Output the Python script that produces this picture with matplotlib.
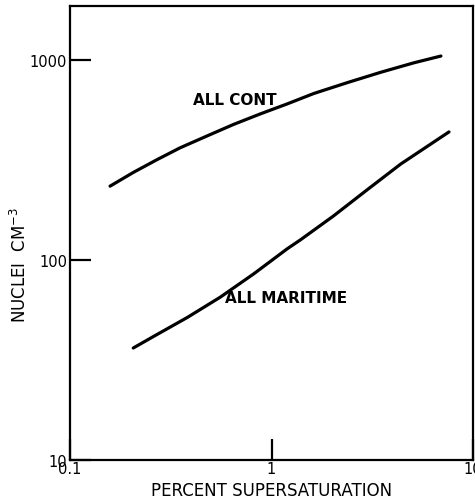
import matplotlib
matplotlib.use("Agg")
import matplotlib.pyplot as plt
from matplotlib.ticker import FixedLocator, FixedFormatter, NullLocator

# Data
cont_x = [0.158, 0.206, 0.271, 0.352, 0.481, 0.647, 0.881, 1.20, 1.62,
          2.39, 3.48, 5.08, 6.93]
cont_y = [234, 274, 318, 364, 418, 476, 538, 604, 680, 772, 868, 968, 1047]
mari_x = [0.206, 0.259, 0.382, 0.557, 0.814, 1.20, 1.39, 1.75, 2.03,
          3.01, 4.38, 7.60]
mari_y = [36.3, 41.4, 51.6, 65.2, 85.1, 114, 126, 149, 166, 226, 302, 437]

x_ticks = [0.1, 1, 10]
x_tick_labels = ["0.1", "1", "10"]
y_ticks = [10, 100, 1000]
y_tick_labels = ["10", "100", "1000"]

fig = plt.figure(figsize=(4.75, 5.02), dpi=100)
ax = fig.add_axes([0.1474, 0.0817, 0.8484, 0.9043])

ax.plot(cont_x, cont_y, color="black", lw=2.3, solid_capstyle="round",
        solid_joinstyle="round")
ax.plot(mari_x, mari_y, color="black", lw=2.3, solid_capstyle="round",
        solid_joinstyle="round")

ax.set_xscale("log")
ax.set_yscale("log")
ax.set_xlim(0.1, 10)
ax.set_ylim(10, 1862)

ax.xaxis.set_major_locator(FixedLocator(x_ticks))
ax.xaxis.set_major_formatter(FixedFormatter(x_tick_labels))
ax.yaxis.set_major_locator(FixedLocator(y_ticks))
ax.yaxis.set_major_formatter(FixedFormatter(y_tick_labels))
ax.xaxis.set_minor_locator(NullLocator())
ax.yaxis.set_minor_locator(NullLocator())

ax.tick_params(axis="both", direction="in", length=15, width=1.6,
               labelsize=10.5)
ax.tick_params(axis="x", pad=1)
ax.tick_params(axis="y", pad=2)
for s in ax.spines.values():
    s.set_linewidth(1.6)

ax.text(0.66, 638, "ALL CONT", ha="center", va="center", fontsize=11,
        fontweight="bold")
ax.text(0.59, 65, "ALL MARITIME", ha="left", va="center", fontsize=11,
        fontweight="bold")

ax.set_xlabel("PERCENT SUPERSATURATION", fontsize=12, labelpad=3)
ax.set_ylabel("NUCLEI  CM$^{-3}$", fontsize=12)
ax.yaxis.set_label_coords(-0.10, 0.432)

fig.savefig("out.png", dpi=100)
